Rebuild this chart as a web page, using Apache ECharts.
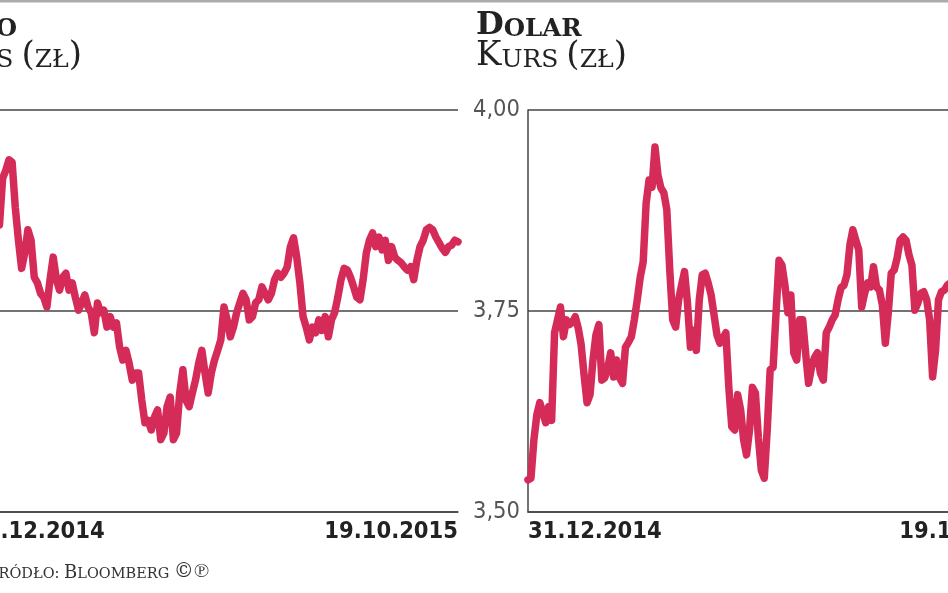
<!DOCTYPE html>
<html>
<head>
<meta charset="utf-8">
<script src="https://cdn.jsdelivr.net/npm/echarts@6/dist/echarts.min.js"></script>
<style>
  html, body { margin: 0; padding: 0; background: #fff; }
  #chart { width: 948px; height: 593px; }
</style>
</head>
<body>
<div id="chart"></div>
<script>
// kurs euro i dolara (zł), notowania dzienne od 31.12.2014 do 19.10.2015
const euroValues = [
  4.262, 4.270, 4.281, 4.292, 4.301, 4.288, 4.274, 4.266, 4.258,
  4.257, 4.315, 4.325, 4.338, 4.335, 4.279, 4.238, 4.203, 4.222, 4.251,
  4.238, 4.192, 4.185, 4.172, 4.167, 4.155, 4.189, 4.217, 4.189, 4.176,
  4.192, 4.197, 4.176, 4.185, 4.167, 4.151, 4.160, 4.170, 4.155, 4.148,
  4.123, 4.160, 4.148, 4.151, 4.130, 4.143, 4.130, 4.135, 4.105, 4.089,
  4.101, 4.085, 4.064, 4.073, 4.073, 4.039, 4.011, 4.014, 4.002, 4.018,
  4.027, 3.990, 3.998, 4.031, 4.043, 3.990, 3.998, 4.048, 4.077, 4.039,
  4.031, 4.048, 4.064, 4.085, 4.101, 4.073, 4.048, 4.073, 4.089, 4.101,
  4.114, 4.155, 4.139, 4.118, 4.130, 4.148, 4.160, 4.172, 4.164, 4.139,
  4.143, 4.160, 4.164, 4.180, 4.172, 4.164, 4.172, 4.189, 4.197, 4.192,
  4.197, 4.205, 4.230, 4.241, 4.217, 4.185, 4.143, 4.130, 4.114, 4.130,
  4.123, 4.139, 4.126, 4.143, 4.118, 4.139, 4.148, 4.167, 4.189, 4.203,
  4.201, 4.192, 4.180, 4.167, 4.164, 4.189, 4.222, 4.238, 4.247, 4.230,
  4.242, 4.226, 4.238, 4.213, 4.230, 4.217, 4.213, 4.210, 4.205, 4.201,
  4.205, 4.189, 4.213, 4.230, 4.238, 4.251, 4.254, 4.251, 4.242, 4.235,
  4.228, 4.223, 4.230, 4.232, 4.238, 4.236
];
const dolarValues = [
  3.540, 3.542, 3.590, 3.621, 3.636, 3.624, 3.611, 3.631, 3.614, 3.723,
  3.739, 3.755, 3.718, 3.739, 3.733, 3.736, 3.743, 3.729, 3.708, 3.670,
  3.636, 3.646, 3.689, 3.720, 3.733, 3.664, 3.667, 3.679, 3.698, 3.668,
  3.689, 3.667, 3.660, 3.705, 3.711, 3.718, 3.739, 3.764, 3.792, 3.811,
  3.884, 3.913, 3.904, 3.954, 3.919, 3.903, 3.897, 3.876, 3.801, 3.739,
  3.730, 3.764, 3.782, 3.799, 3.760, 3.705, 3.726, 3.701, 3.764, 3.795,
  3.797, 3.785, 3.770, 3.745, 3.720, 3.710, 3.716, 3.723, 3.655, 3.606,
  3.602, 3.646, 3.627, 3.590, 3.571, 3.602, 3.655, 3.648, 3.593, 3.552,
  3.542, 3.602, 3.677, 3.680, 3.748, 3.813, 3.807, 3.782, 3.748, 3.770,
  3.698, 3.689, 3.739, 3.739, 3.698, 3.660, 3.680, 3.692, 3.698, 3.673,
  3.664, 3.723, 3.730, 3.739, 3.745, 3.764, 3.779, 3.782, 3.795, 3.832,
  3.851, 3.838, 3.826, 3.755, 3.772, 3.785, 3.780, 3.805, 3.780, 3.776,
  3.757, 3.710, 3.748, 3.797, 3.801, 3.816, 3.838, 3.842, 3.838, 3.820,
  3.807, 3.751, 3.760, 3.772, 3.774, 3.764, 3.739, 3.668, 3.701, 3.764,
  3.774, 3.776, 3.782, 3.785,
  3.788, 3.781, 3.776, 3.792, 3.785, 3.770, 3.775, 3.760, 3.756, 3.742,
  3.733, 3.748, 3.740, 3.722, 3.712, 3.703, 3.700, 3.694, 3.688, 3.701,
  3.710, 3.718, 3.722, 3.731, 3.738, 3.741, 3.748, 3.752
];
const dateLabels = ['31.12.2014', '19.10.2015'];
const euroRange = [3.9, 4.4];
const dolarRange = [3.5, 4.0];
const rateStep = 0.25;

const lineColor = '#d42b59';
const ruleColor = '#444';
const serif = 'DejaVu Serif';
const narrow = 'DejaVu Sans Condensed, sans-serif';

const myChart = echarts.init(document.getElementById('chart'));

function xAxisFor(gridIndex, values) {
  const last = values.length - 1;
  return {
    gridIndex: gridIndex,
    type: 'category',
    boundaryGap: false,
    data: values.map((v, i) => i),
    axisLine: { lineStyle: { color: ruleColor, width: 1.5 } },
    axisTick: { show: false },
    axisLabel: {
      interval: (i) => i === 0 || i === last,
      formatter: (v) => (Number(v) === 0 ? dateLabels[0] : dateLabels[1]),
      alignMinLabel: 'left',
      alignMaxLabel: 'right',
      showMinLabel: true,
      showMaxLabel: true,
      margin: 8,
      color: '#222',
      fontSize: 23.5,
      fontWeight: 'bold',
      fontFamily: narrow
    }
  };
}

function yAxisFor(gridIndex, range) {
  return {
    gridIndex: gridIndex,
    type: 'value',
    min: range[0],
    max: range[1],
    interval: rateStep,
    axisLine: { show: true, lineStyle: { color: ruleColor, width: 1.5 } },
    axisTick: { show: false },
    splitLine: { lineStyle: { color: ruleColor, width: 1.5 } },
    axisLabel: {
      formatter: (v) => v.toFixed(2).replace('.', ','),
      margin: 8,
      color: '#555',
      fontSize: 23.5,
      fontFamily: narrow
    }
  };
}

function rateSeries(index, values) {
  return {
    type: 'line',
    xAxisIndex: index,
    yAxisIndex: index,
    data: values,
    showSymbol: false,
    silent: true,
    lineStyle: { color: lineColor, width: 7.5, join: 'round', cap: 'round' }
  };
}

// kapitaliki: duza litera + mniejsze wersaliki
const richCaps = {
  t1: { fontFamily: serif, fontWeight: 'bold', fontSize: 32, lineHeight: 32, fill: '#222', verticalAlign: 'bottom' },
  t2: { fontFamily: serif, fontWeight: 'bold', fontSize: 24.5, lineHeight: 32, fill: '#222', verticalAlign: 'bottom' },
  s1: { fontFamily: serif, fontSize: 34, lineHeight: 34, fill: '#222', verticalAlign: 'bottom' },
  s2: { fontFamily: serif, fontSize: 25, lineHeight: 34, fill: '#222', verticalAlign: 'bottom' },
  f1: { fontFamily: serif, fontSize: 18, lineHeight: 20, fill: '#333', verticalAlign: 'bottom' },
  f2: { fontFamily: serif, fontSize: 14.5, lineHeight: 20, fill: '#333', verticalAlign: 'bottom' },
  f3: { fontFamily: serif, fontSize: 20, lineHeight: 20, fill: '#333', verticalAlign: 'bottom' }
};

myChart.setOption({
  animation: false,
  grid: [
    { left: -29, right: 490, top: 110, bottom: 81, outerBoundsMode: 'none' },
    { left: 528, right: -85, top: 110, bottom: 81, outerBoundsMode: 'none' }
  ],
  xAxis: [xAxisFor(0, euroValues), xAxisFor(1, dolarValues)],
  yAxis: [yAxisFor(0, euroRange), yAxisFor(1, dolarRange)],
  series: [rateSeries(0, euroValues), rateSeries(1, dolarValues)],
  graphic: [
    { type: 'rect', shape: { x: 0, y: 0, width: 948, height: 2.5 }, style: { fill: '#ababab' } },
    { type: 'text', x: 17, y: 10, style: { text: '{t1|E}{t2|URO}', rich: richCaps, align: 'right', verticalAlign: 'top' } },
    { type: 'text', x: 82, y: 39, style: { text: '{s1|K}{s2|URS }{s1|(}{s2|ZŁ}{s1|)}', rich: richCaps, align: 'right', verticalAlign: 'top' } },
    { type: 'text', x: 476, y: 10, style: { text: '{t1|D}{t2|OLAR}', rich: richCaps, align: 'left', verticalAlign: 'top' } },
    { type: 'text', x: 476, y: 39, style: { text: '{s1|K}{s2|URS }{s1|(}{s2|ZŁ}{s1|)}', rich: richCaps, align: 'left', verticalAlign: 'top' } },
    { type: 'text', x: -14, y: 562, style: { text: '{f1|Ź}{f2|RÓDŁO: }{f1|B}{f2|LOOMBERG }{f3|©℗}', rich: richCaps, align: 'left', verticalAlign: 'top' } }
  ]
});
</script>
</body>
</html>
